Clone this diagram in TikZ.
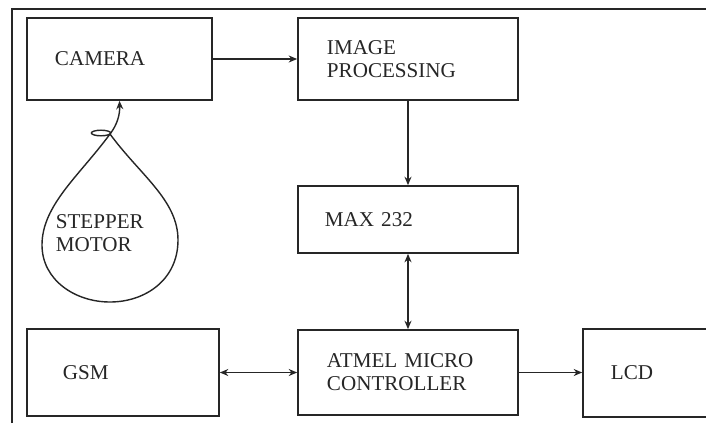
\documentclass[tikz,border=0pt]{standalone}
\usepackage{fontspec}
\setmainfont{Liberation Serif}
\usetikzlibrary{arrows.meta}
\begin{document}
\begin{tikzpicture}[x=0.025cm, y=-0.025cm, line width=1.2pt, black!85,
  font=\fontsize{15}{16.5}\selectfont,
  block/.style={draw, align=left, inner ysep=0pt},
  link/.style={-{Stealth[length=6pt,width=5pt]}},
  both/.style={{Stealth[length=6pt,width=5pt]}-{Stealth[length=6pt,width=5pt]}}]
  \useasboundingbox (0,0) rectangle (706,423);
  \clip (0,0) rectangle (706,423);
  % frame
  \draw (12,423) -- (12,9) -- (706,9);
  % blocks
  \node[block, minimum height=2.05cm, text width=3.225cm, inner xsep=0.7cm] (camera) at (119.5,59) {CAMERA};
  \node[block, minimum height=2.05cm, text width=4.05cm, inner xsep=0.725cm] (imgproc) at (408,59) {IMAGE\\PROCESSING};
  \node[block, minimum height=1.675cm, text width=4.15cm, inner xsep=0.675cm] (max) at (408,219.5) {MAX 232};
  \node[block, minimum height=2.125cm, text width=4.05cm, inner xsep=0.725cm] (atmel) at (408,372.5) {ATMEL MICRO\\CONTROLLER};
  \node[block, minimum height=2.175cm, text width=3.0cm, inner xsep=0.9cm] (gsm) at (123,372.5) {GSM};
  \node[block, minimum height=2.2cm, text width=4.025cm, inner xsep=0.7cm] (lcd) at (691.5,373) {LCD};
  % stepper motor
  \coordinate (tip) at (110,134);
  \draw[line width=1pt] (tip) .. controls (140,175) and (178,200) .. (178,240)
    .. controls (178,280) and (145,302) .. (110,302)
    .. controls (75,302) and (42,280) .. (42,245)
    .. controls (42,205) and (80,175) .. (tip);
  \draw[line width=1pt] (101,133) ellipse (0.24cm and 0.07cm);
  \node[align=left, anchor=west, inner sep=0pt] (motor) at (55,233) {STEPPER\\MOTOR};
  % connections
  \draw[link, line width=1pt] (tip) .. controls (117,125) and (120,115) .. (camera.south);
  \draw[link] (camera) -- (imgproc);
  \draw[link] (imgproc) -- (max);
  \draw[both] (max) -- (atmel);
  \draw[both] (gsm) -- (atmel);
  \draw[link] (atmel.east) -- (atmel.east -| lcd.west);
\end{tikzpicture}
\end{document}
